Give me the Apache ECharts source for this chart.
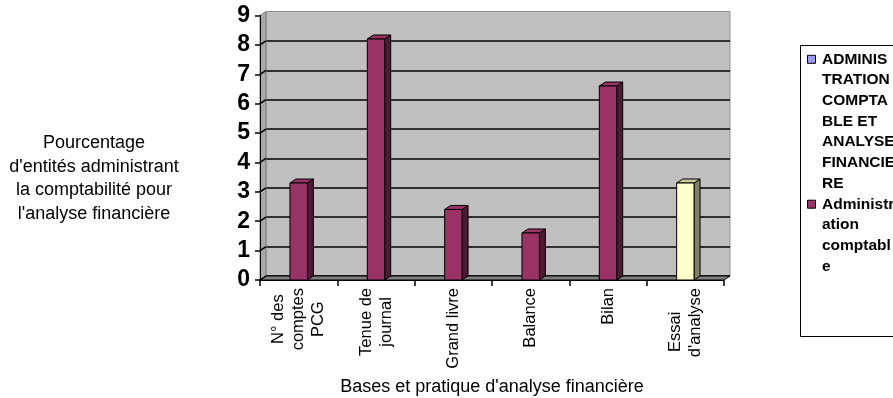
<!DOCTYPE html>
<html>
<head>
<meta charset="utf-8">
<script src="https://cdn.jsdelivr.net/npm/echarts@6/dist/echarts.min.js"></script>
<style>
  html, body { margin: 0; padding: 0; background: #fff; }
  #chart { width: 893px; height: 398px; }
</style>
</head>
<body>
<div id="chart"></div>
<script>
// Categories along the horizontal axis (line breaks as they wrap under the axis)
const categories = ['N° des\ncomptes\nPCG', 'Tenue de\njournal', 'Grand livre', 'Balance', 'Bilan', 'Essai    \nd\'analyse'];
// Values of "Administration comptable"
const values = [3.3, 8.2, 2.4, 1.6, 6.6, 3.3];
// Value axis range
const yMin = 0, yMax = 9, yStep = 1;
// Series names, and how each one wraps inside the legend box
const seriesNames = ['ADMINISTRATION COMPTABLE ET ANALYSE FINANCIERE', 'Administration comptable'];
const legendLines = [
  ['ADMINIS', 'TRATION', 'COMPTA', 'BLE ET', 'ANALYSE', 'FINANCIE', 'RE'],
  ['Administr', 'ation', 'comptabl', 'e']
];
const yTitle = ['Pourcentage', 'd\'entités administrant', 'la comptabilité pour', 'l\'analyse financière'];
const xTitle = 'Bases et pratique d\'analyse financière';

// ---- styling ----
const FONT = '"Liberation Sans", Arial, sans-serif';
const seriesColors = ['#9999FF', '#993366'];
const shades = {
  maroon: { front: '#993366', top: '#993366', side: '#4D1A33' },
  cream:  { front: '#FFFFCC', top: '#CCCCA3', side: '#808066' }
};
const barShade = ['maroon', 'maroon', 'maroon', 'maroon', 'maroon', 'cream'];
const DX = 6, DY = 4;          // depth offset of the 3-D look
const BAR_RATIO = 0.225;       // bar width relative to a category band

const chart = echarts.init(document.getElementById('chart'), null, { renderer: 'canvas' });

function renderBar(params, api) {
  const i = api.value(0);
  const v = api.value(1);
  const top = api.coord([i, v]);
  const base = api.coord([i, 0]);
  const w = api.size([1, 0])[0] * BAR_RATIO;
  const xl = top[0] - w / 2, xr = top[0] + w / 2;
  const yt = top[1], yb = base[1];
  const s = shades[barShade[params.dataIndex]];
  const line = { stroke: '#000', lineWidth: 1, lineJoin: 'miter' };
  return {
    type: 'group',
    children: [
      { type: 'polygon', shape: { points: [[xr, yb], [xr, yt], [xr + DX, yt - DY], [xr + DX, yb - DY]] },
        style: Object.assign({ fill: s.side }, line) },
      { type: 'polygon', shape: { points: [[xl, yt], [xl + DX, yt - DY], [xr + DX, yt - DY], [xr, yt]] },
        style: Object.assign({ fill: s.top }, line) },
      { type: 'rect', shape: { x: xl, y: yt, width: w, height: yb - yt },
        style: Object.assign({ fill: s.front }, line) }
    ]
  };
}

// Side wall, floor and the short grid segments running back from the front axis
function renderWalls(params, api) {
  const cs = params.coordSys;
  const x = cs.x, y = cs.y, w = cs.width, h = cs.height;
  const children = [
    { type: 'polygon', shape: { points: [[x, y + h], [x, y], [x + DX, y - DY], [x + DX, y + h - DY]] },
      style: { fill: '#A8A8A8', stroke: '#808080', lineWidth: 1 } },
    { type: 'polygon', shape: { points: [[x, y + h], [x + DX, y + h - DY], [x + w + DX, y + h - DY], [x + w, y + h]] },
      style: { fill: '#808080', stroke: '#000', lineWidth: 1 } }
  ];
  for (let v = yMin; v < yMax; v += yStep) {
    const py = api.coord([0, v])[1];
    children.push({ type: 'line', shape: { x1: x, y1: py, x2: x + DX, y2: py - DY },
      style: { stroke: '#000', lineWidth: 1.5 } });
  }
  return { type: 'group', children };
}

const option = {
  animation: false,
  backgroundColor: '#fff',
  grid: [
    // back wall
    { left: 260 + DX, right: 169 - DX, top: 15.5 - DY, bottom: 118 + DY,
      show: true, backgroundColor: '#C0C0C0', borderColor: '#909090', borderWidth: 1,
      outerBoundsMode: 'none', containLabel: false },
    // front plane
    { left: 260, right: 169, top: 15.5, bottom: 118, outerBoundsMode: 'none', containLabel: false }
  ],
  xAxis: [
    { gridIndex: 0, type: 'category', data: categories, show: false },
    { gridIndex: 1, type: 'category', data: categories, z: 10,
      axisLine: { show: true, lineStyle: { color: '#000', width: 1 } },
      axisTick: { show: true, length: 6, lineStyle: { color: '#000', width: 1.5 } },
      axisLabel: {
        rotate: 90, margin: 8, interval: 0, color: '#000',
        fontFamily: FONT, fontSize: 16.5,
        formatter: (val) => val.split('\n').map(l => '{c|' + l + '}').join('\n'),
        rich: { c: { align: 'center', fontFamily: FONT, fontSize: 16.5, lineHeight: 20, color: '#000' } }
      },
      splitLine: { show: false },
      name: xTitle, nameLocation: 'middle', nameGap: 98,
      nameTextStyle: { fontFamily: FONT, fontSize: 18, color: '#000' }
    }
  ],
  yAxis: [
    { gridIndex: 0, type: 'value', min: yMin, max: yMax, interval: yStep,
      axisLine: { show: false }, axisTick: { show: false }, axisLabel: { show: false },
      splitLine: { show: true, showMaxLine: false, lineStyle: { color: '#000', width: 1.5 } } },
    { gridIndex: 1, type: 'value', min: yMin, max: yMax, interval: yStep, z: 10,
      axisLine: { show: true, lineStyle: { color: '#000', width: 1 } },
      axisTick: { show: true, length: 5, lineStyle: { color: '#000', width: 1.5 } },
      axisLabel: { margin: 10, color: '#000', fontFamily: FONT, fontSize: 23, fontWeight: 'bold' },
      splitLine: { show: false } }
  ],
  series: [
    { type: 'custom', name: 'walls', xAxisIndex: 1, yAxisIndex: 1, silent: true, z: 1,
      data: [[0, 0]], renderItem: renderWalls },
    { type: 'custom', name: seriesNames[1], xAxisIndex: 1, yAxisIndex: 1, z: 3,
      data: values.map((v, i) => [i, v]), encode: { x: 0, y: 1 }, renderItem: renderBar }
  ],
  graphic: [
    { type: 'text', x: 94, y: 178.5, silent: true,
      style: { text: yTitle.join('\n'), align: 'center', verticalAlign: 'middle',
               font: '18px ' + FONT, lineHeight: 23.7, fill: '#000' } },
    // legend box
    { type: 'rect', shape: { x: 800.5, y: 45.5, width: 150, height: 291 },
      style: { fill: '#fff', stroke: '#000', lineWidth: 1 }, silent: true },
    ...legendLines.flatMap((lines, k) => {
      const top = 49 + k * 7 * 20.7;
      return [
        { type: 'rect', shape: { x: 807.5, y: top + 6.3, width: 8, height: 8 },
          style: { fill: seriesColors[k], stroke: '#000', lineWidth: 1 }, silent: true },
        { type: 'text', x: 822, y: top, silent: true,
          style: { text: lines.join('\n'), align: 'left', verticalAlign: 'top',
                   font: 'bold 15.5px ' + FONT, lineHeight: 20.7, fill: '#000' } }
      ];
    })
  ]
};

chart.setOption(option);
</script>
</body>
</html>
